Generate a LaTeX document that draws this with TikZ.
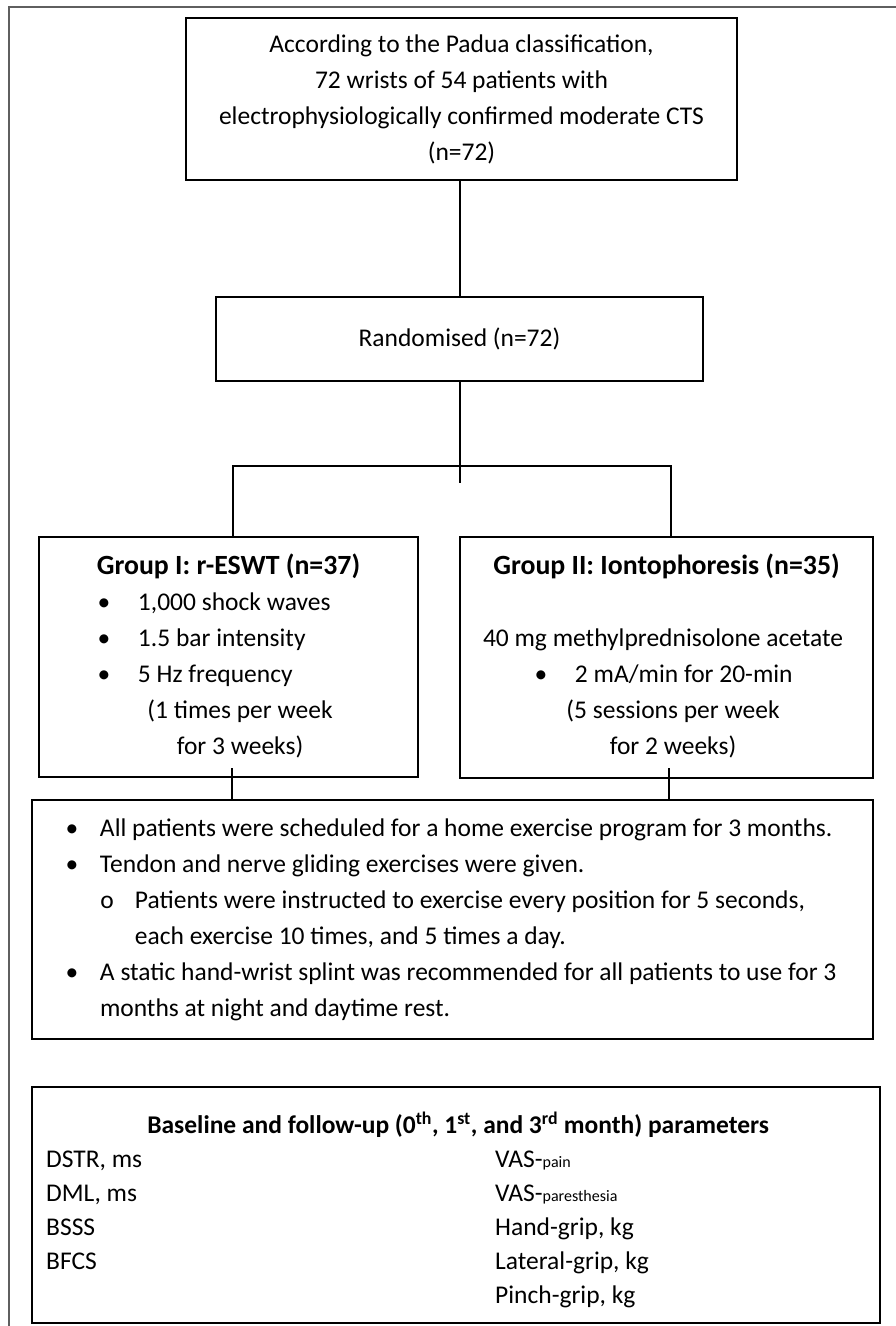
\documentclass[tikz,border=0pt]{standalone}
\usepackage{fontspec}
\setmainfont{Carlito}
\usetikzlibrary{positioning,calc}
\definecolor{framegray}{RGB}{95,95,95}
\newcommand{\bodyfont}{\fontsize{25.5}{36}\selectfont}
\newcommand{\headfont}{\fontsize{27.8}{36}\selectfont\bfseries}
\newcommand{\listfont}{\fontsize{25.5}{34}\selectfont}
\newcommand{\smallfont}{\fontsize{16}{16}\selectfont}
\newcommand{\bulletat}[2]{\hspace*{#1pt}\makebox[#2pt]{\textbullet}}

\begin{document}
\begin{tikzpicture}[
    x=1pt, y=-1pt,
    box/.style={rectangle, draw, line width=2pt, inner sep=0pt, font=\bodyfont},
    link/.style={line width=2pt},
    outerline/.style={draw=framegray, line width=1.3pt}
]
\useasboundingbox (0,0) rectangle (896,1326);

% outer frame, only top and left edges
\draw[outerline] (896,7) -- (9,7) -- (9,1326);

\node[box, minimum width=551pt, minimum height=162pt, align=flush center] (padua) at (461.5,99) {\strut According to the Padua classification,\\72 wrists of 54 patients with\\electrophysiologically confirmed moderate CTS\\(n=72)\strut};

\node[box, minimum width=487pt, minimum height=84pt] (rand) at (459.5,339) {Randomised (n=72)};

\node[box, minimum width=379pt, minimum height=240pt, text width=379pt, align=flush left] (esw) at (228.5,657) {%
\makebox[379pt]{\strut\headfont Group I: r-ESWT (n=37)}\\
\bulletat{31}{68}1,000 shock waves\\
\bulletat{31}{68}1.5 bar intensity\\
\bulletat{31}{68}5 Hz frequency\\
\makebox[379pt]{\hspace*{23pt}(1 times per week}\\
\makebox[379pt]{\hspace*{23pt}for 3 weeks)\strut}};

\node[box, minimum width=413pt, minimum height=241pt, text width=413pt, align=flush left] (ionto) at (666.5,657.5) {%
\makebox[413pt]{\strut\headfont Group II: Iontophoresis (n=35)}\\
\strut\\
\hspace*{23pt}40 mg methylprednisolone acetate\\
\bulletat{47}{68}2 mA/min for 20-min\\
\makebox[413pt]{\hspace*{13pt}(5 sessions per week}\\
\makebox[413pt]{\hspace*{13pt}for 2 weeks)\strut}};

\node[box, minimum width=841pt, minimum height=239pt, text width=841pt, align=flush left] (home) at (452.5,919.5) {%
\bulletat{12}{56}\strut All patients were scheduled for a home exercise program for 3 months.\\
\bulletat{12}{56}Tendon and nerve gliding exercises were given.\\
\hspace*{47pt}\makebox[56pt]{o}Patients were instructed to exercise every position for 5 seconds,\\
\hspace*{103pt}each exercise 10 times, and 5 times a day.\\
\bulletat{12}{56}A static hand-wrist splint was recommended for all patients to use for 3\\
\hspace*{68pt}months at night and daytime rest.\strut};

\node[box, minimum width=848pt, minimum height=236pt] (param) at (456,1205) {};
\node[anchor=north west, inner sep=0pt, text width=824pt, align=flush left, font=\listfont] (paramlist) at ($(param.north west)+(15,23.2)$) {%
\makebox[824pt]{\strut\bfseries Baseline and follow-up (0\textsuperscript{th}, 1\textsuperscript{st}, and 3\textsuperscript{rd} month) parameters}\\
\makebox[449pt][l]{DSTR, ms}VAS-{\smallfont pain}\\
\makebox[449pt][l]{DML, ms}VAS-{\smallfont paresthesia}\\
\makebox[449pt][l]{BSSS}Hand-grip, kg\\
\makebox[449pt][l]{BFCS}Lateral-grip, kg\\
\hspace*{449pt}Pinch-grip, kg};

% connectors
\coordinate (stub) at ($(rand.south)+(0,101)$);
\coordinate (forkL) at (233,466);
\coordinate (forkR) at (671,466);
\coordinate (tieL) at (232,768);
\coordinate (tieR) at (669,768);

\draw[link] (rand.north) -- (rand.north |- padua.south);
\draw[link] (rand.south) -- (stub);
\draw[link] (forkL |- esw.north) -- (forkL) -- (forkR) -- (forkR |- ionto.north);
\draw[link] (tieL) -- (tieL |- home.north);
\draw[link] (tieR) -- (tieR |- home.north);

\end{tikzpicture}
\end{document}
